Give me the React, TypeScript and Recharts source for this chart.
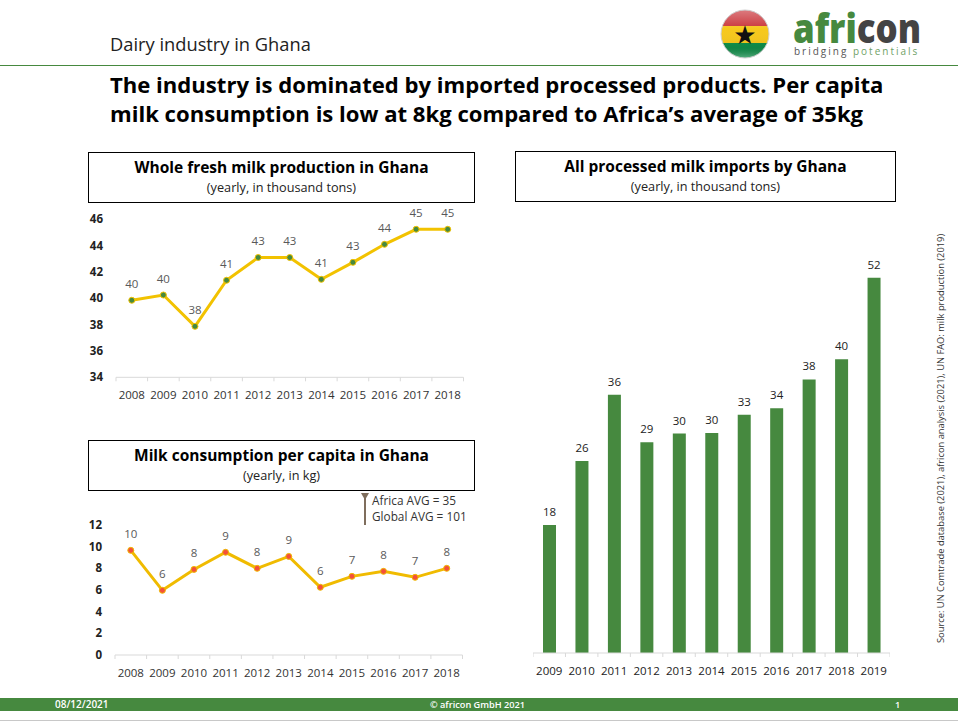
import React from 'react';
import { LineChart, Line, BarChart, Bar, XAxis, YAxis, LabelList } from 'recharts';

const productionYears = ['2008', '2009', '2010', '2011', '2012', '2013', '2014', '2015', '2016', '2017', '2018'];
const productionValues = [39.85, 40.25, 37.87, 41.37, 43.1, 43.1, 41.44, 42.73, 44.1, 45.24, 45.24];
const productionTicks = [34, 36, 38, 40, 42, 44, 46];

const consumptionYears = ['2008', '2009', '2010', '2011', '2012', '2013', '2014', '2015', '2016', '2017', '2018'];
const consumptionValues = [9.66, 5.97, 7.9, 9.48, 8.0, 9.1, 6.25, 7.26, 7.72, 7.17, 8.0];
const consumptionTicks = [0, 2, 4, 6, 8, 10, 12];

const importYears = ['2009', '2010', '2011', '2012', '2013', '2014', '2015', '2016', '2017', '2018', '2019'];
const importValues = [17.75, 26.6, 35.8, 29.2, 30.4, 30.5, 33.0, 33.9, 37.9, 40.7, 52.0];
const importLabels = ['18', '26', '36', '29', '30', '30', '33', '34', '38', '40', '52'];

const productionData = productionYears.map((year, i) => ({ year, value: productionValues[i] }));
const consumptionData = consumptionYears.map((year, i) => ({ year, value: consumptionValues[i] }));
const importData = importYears.map((year, i) => ({ year, value: importValues[i], label: importLabels[i] }));

const FONT = '"Open Sans", sans-serif';
const GREEN = '#46893f';
const AXIS = '#d9d9d9';

// excel style category axis: tick marks sit between the categories
const bandTick = (band: number, count: number, textColor: string) => (props: any) => {
  const { x, y, payload, index } = props;
  return (
    <g>
      <line x1={x - band / 2} x2={x - band / 2} y1={y} y2={y + 4} stroke={AXIS} />
      {index === count - 1 && <line x1={x + band / 2} x2={x + band / 2} y1={y} y2={y + 4} stroke={AXIS} />}
      <text x={x} y={y + 22} textAnchor="middle" fontSize={11.5} fontFamily={FONT} fill={textColor}>
        {payload.value}
      </text>
    </g>
  );
};

const TitleBox = ({ left, top, width, height, title, sub }: any) => (
  <div
    style={{
      position: 'absolute', left, top, width, height, boxSizing: 'border-box',
      border: '1px solid #000', textAlign: 'center', fontFamily: FONT, background: '#fff',
    }}
  >
    <div style={{ fontSize: 15.5, fontWeight: 700, lineHeight: '20px', marginTop: 4, color: '#000' }}>{title}</div>
    <div style={{ fontSize: 12.7, lineHeight: '16px', marginTop: 2, color: '#222' }}>{sub}</div>
  </div>
);

const LineBlock = ({ data, ticks, domain, left, top, width, height, plotTop, plotBottom, dotFill, lineColor }: any) => (
  <div style={{ position: 'absolute', left, top }}>
    <LineChart
      width={width}
      height={height}
      data={data}
      margin={{ top: plotTop, right: 0, bottom: 0, left: 0 }}
    >
      <XAxis
        dataKey="year"
        scale="band"
        interval={0}
        axisLine={{ stroke: AXIS }}
        tickLine={false}
        tickSize={0}
        tickMargin={0}
        height={height - plotBottom}
        tick={bandTick((width - 40) / 11, 11, '#333')}
      />
      <YAxis
        type="number"
        domain={domain}
        ticks={ticks}
        interval={0}
        width={40}
        axisLine={false}
        tickLine={false}
        tickSize={0}
        tickMargin={13}
        tick={{ fontSize: 11.5, fontWeight: 700, fontFamily: FONT, fill: '#222' }}
      />
      <Line
        dataKey="value"
        stroke={lineColor}
        strokeWidth={3}
        isAnimationActive={false}
        dot={{ r: 3, fill: dotFill, stroke: lineColor, strokeWidth: 1, fillOpacity: 1 }}
      >
        <LabelList
          dataKey="value"
          position="top"
          offset={12}
          formatter={(v: any) => Math.round(v)}
          style={{ fontSize: 11.5, fontFamily: FONT, fill: '#595959' }}
        />
      </Line>
    </LineChart>
  </div>
);

export default function App() {
  return (
    <div
      style={{
        position: 'absolute', left: 0, top: 0, width: 958, height: 721, overflow: 'hidden',
        background: '#fff', fontFamily: FONT, color: '#000',
      }}
    >
      <div style={{ position: 'absolute', left: 110, top: 33, fontSize: 18.3, lineHeight: '22px', color: '#222' }}>
        Dairy industry in Ghana
      </div>
      <div style={{ position: 'absolute', left: 0, top: 65, width: 958, height: 1, background: GREEN }} />

      <svg width={210} height={64} style={{ position: 'absolute', left: 715, top: 0 }}>
        <defs>
          <clipPath id="flagClip">
            <circle cx={30} cy={34} r={24} />
          </clipPath>
          <linearGradient id="flagShade" x1="0" y1="0" x2="0" y2="1">
            <stop offset="0" stopColor="#fff" stopOpacity={0.35} />
            <stop offset="0.4" stopColor="#fff" stopOpacity={0} />
            <stop offset="0.75" stopColor="#000" stopOpacity={0.05} />
            <stop offset="1" stopColor="#fff" stopOpacity={0.3} />
          </linearGradient>
        </defs>
        <g clipPath="url(#flagClip)">
          <rect x={6} y={10} width={48} height={16} fill="#c9343a" />
          <rect x={6} y={26} width={48} height={17} fill="#f6c81c" />
          <rect x={6} y={43} width={48} height={16} fill="#0f8f4a" />
          <rect x={6} y={10} width={48} height={48} fill="url(#flagShade)" />
        </g>
        <circle cx={30} cy={34} r={24} fill="none" stroke="#cfcfcf" />
        <text x={30} y={44} textAnchor="middle" fontSize={26} fontFamily="DejaVu Sans" fill="#111">★</text>
        <g transform="translate(78,43) scale(0.85,1)">
          <text x={0} y={0} fontSize={41} fontWeight={800} fontFamily={FONT}>
            <tspan fill={GREEN}>afri</tspan>
            <tspan fill="#444">con</tspan>
          </text>
        </g>
        <text x={79} y={55} fontSize={10} fontFamily={FONT} letterSpacing={2}>
          <tspan fill="#555">bridging </tspan>
          <tspan fill="#6f9f66">potentials</tspan>
        </text>
      </svg>

      <div
        style={{
          position: 'absolute', left: 110, top: 70, fontSize: 22.1, fontWeight: 700, lineHeight: '29px',
          whiteSpace: 'nowrap', color: '#000',
        }}
      >
        <div>The industry is dominated by imported processed products. Per capita</div>
        <div>milk consumption is low at 8kg compared to Africa’s average of 35kg</div>
      </div>

      <TitleBox left={88} top={152} width={387} height={51} title="Whole fresh milk production in Ghana" sub="(yearly, in thousand tons)" />
      <TitleBox left={88} top={440} width={387} height={51} title="Milk consumption per capita in Ghana" sub="(yearly, in kg)" />
      <TitleBox left={515} top={151} width={381} height={51} title="All processed milk imports by Ghana" sub="(yearly, in thousand tons)" />

      <LineBlock
        data={productionData}
        ticks={productionTicks}
        domain={[34, 46]}
        left={76}
        top={205}
        width={387.5}
        height={200}
        plotTop={14.3}
        plotBottom={172.3}
        dotFill={GREEN}
        lineColor="#f2c200"
      />

      <LineBlock
        data={consumptionData}
        ticks={consumptionTicks}
        domain={[0, 12]}
        left={75}
        top={510}
        width={387.5}
        height={180}
        plotTop={15}
        plotBottom={145}
        dotFill="#f4503a"
        lineColor="#f0bb00"
      />

      <svg width={12} height={36} style={{ position: 'absolute', left: 359, top: 491 }}>
        <path d="M2 2 L10 2 L6 9 Z" fill="#7f6e5d" />
        <line x1={6} x2={6} y1={6} y2={34} stroke="#7f6e5d" strokeWidth={2} />
      </svg>
      <div style={{ position: 'absolute', left: 372, top: 493, fontSize: 11.8, lineHeight: '15.7px', color: '#333', whiteSpace: 'nowrap' }}>
        <div>Africa AVG = 35</div>
        <div>Global AVG = 101</div>
      </div>

      <div style={{ position: 'absolute', left: 532.5, top: 200 }}>
        <BarChart
          width={357}
          height={490}
          data={importData}
          margin={{ top: 20, right: 0, bottom: 0, left: 0 }}
        >
          <XAxis
            dataKey="year"
            interval={0}
            axisLine={{ stroke: AXIS }}
            tickLine={false}
            tickSize={0}
            tickMargin={0}
            height={37}
            tick={bandTick(357 / 11, 11, '#222')}
          />
          <YAxis hide domain={[0, 60]} />
          <Bar dataKey="value" fill={GREEN} barSize={13} isAnimationActive={false}>
            <LabelList dataKey="label" position="top" offset={9} style={{ fontSize: 11.5, fontFamily: FONT, fill: '#222' }} />
          </Bar>
        </BarChart>
      </div>

      <div
        style={{
          position: 'absolute', left: 941, top: 643, fontSize: 9.33, lineHeight: '12px', color: '#333',
          whiteSpace: 'nowrap', transformOrigin: '0 0', transform: 'rotate(-90deg) translateY(-6px)',
        }}
      >
        Source: UN Comtrade database (2021), africon analysis (2021), UN FAO: milk production (2019)
      </div>

      <div style={{ position: 'absolute', left: 0, top: 698, width: 958, height: 13, background: GREEN, color: '#fff', fontSize: 9.2, fontWeight: 600, lineHeight: '13px' }}>
        <span style={{ position: 'absolute', left: 55, fontSize: 10 }}>08/12/2021</span>
        <span style={{ position: 'absolute', left: 430 }}>© africon GmbH 2021</span>
        <span style={{ position: 'absolute', left: 895 }}>1</span>
      </div>
      <div style={{ position: 'absolute', left: 0, top: 720, width: 958, height: 1, background: '#c8c8c8' }} />
    </div>
  );
}
